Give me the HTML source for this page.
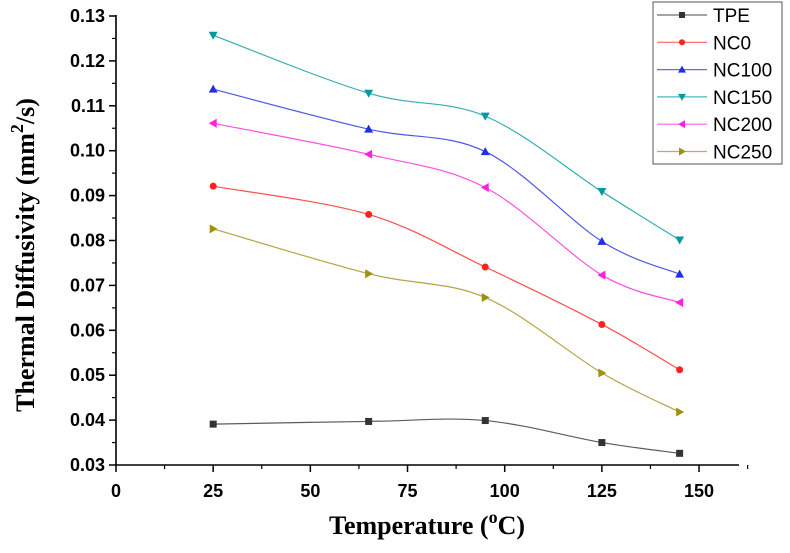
<!DOCTYPE html>
<html><head><meta charset="utf-8"><style>
body{margin:0;background:#fff;}
svg{display:block;font-family:"Liberation Sans",Arial,sans-serif;}
</style></head><body>
<svg id="chart" width="790" height="553"></svg>
<script>
const temps=[25,65,95,125,145];
const seriesNames=["TPE","NC0","NC100","NC150","NC200","NC250"];
const tpe=[0.0391,0.0397,0.0399,0.0350,0.0326];
const nc0=[0.0921,0.0858,0.0741,0.0613,0.0512];
const nc100=[0.1137,0.1048,0.0998,0.0798,0.0725];
const nc150=[0.1257,0.1128,0.1077,0.0909,0.0801];
const nc200=[0.1061,0.0992,0.0918,0.0723,0.0662];
const nc250=[0.0826,0.0726,0.0673,0.0505,0.0418];
const xTicks=[0,25,50,75,100,125,150];
const yTicks=[0.03,0.04,0.05,0.06,0.07,0.08,0.09,0.10,0.11,0.12,0.13];

const allData=[tpe,nc0,nc100,nc150,nc200,nc250];
const colors=["#333333","#ff2020","#2030e0","#009aa0","#ff20e0","#a09010"];
const markers=["square","circle","up","down","left","right"];
const NS="http://www.w3.org/2000/svg";
const svg=document.getElementById('chart');
const X=v=>116+v*3.887;
const Y=v=>465-(v-0.03)*4490;
function mk(tag,attrs,parent){const e=document.createElementNS(NS,tag);for(const k in attrs)e.setAttribute(k,attrs[k]);(parent||svg).appendChild(e);return e;}

let ax=mk('g',{});


mk('line',{x1:116,y1:15,x2:116,y2:465,stroke:'#000','stroke-width':1.6},ax);
mk('line',{x1:116,y1:465,x2:739,y2:465,stroke:'#000','stroke-width':1.6},ax);
yTicks.forEach((t,i)=>{
  const y=Y(t);
  mk('line',{x1:109,y1:y,x2:116,y2:y,stroke:'#000','stroke-width':1.5},ax);
  if(i<yTicks.length-1) mk('line',{x1:112,y1:Y(t+0.005),x2:116,y2:Y(t+0.005),stroke:'#000','stroke-width':1.2},ax);
  const tx=mk('text',{x:105,y:y+6,'text-anchor':'end','font-size':18,'font-weight':'bold'},ax);
  
  
  tx.textContent=t.toFixed(2);
});
xTicks.forEach((t,i)=>{
  const x=X(t);
  mk('line',{x1:x,y1:465,x2:x,y2:472,stroke:'#000','stroke-width':1.5},ax);
  mk('line',{x1:X(t+12.5),y1:465,x2:X(t+12.5),y2:469,stroke:'#000','stroke-width':1.2},ax);
  const tx=mk('text',{x:x,y:497,'text-anchor':'middle','font-size':18,'font-weight':'bold'},ax);
  
  
  tx.textContent=t;
});
let yt=mk('text',{x:0,y:0,transform:'translate(34,255) rotate(-90)','text-anchor':'middle','font-size':26,'font-weight':'bold','font-family':'"Liberation Serif",serif'});


yt.innerHTML='Thermal Diffusivity (mm<tspan dy="-11" font-size="18">2</tspan><tspan dy="11">/s)</tspan>';
let xt=mk('text',{x:427,y:534,'text-anchor':'middle','font-size':26,'font-weight':'bold','font-family':'"Liberation Serif",serif'});


xt.innerHTML='Temperature (<tspan dy="-11" font-size="18">o</tspan><tspan dy="11">C)</tspan>';

function marker(g,type,x,y,c,s){
  s=s||3.5;
  if(type==='square') return mk('rect',{x:x-s,y:y-s,width:2*s,height:2*s,fill:c},g);
  if(type==='circle') return mk('circle',{cx:x,cy:y,r:s,fill:c},g);
  let p;
  if(type==='up') p=[[x,y-s-1],[x-s-1,y+s],[x+s+1,y+s]];
  if(type==='down') p=[[x,y+s+1],[x-s-1,y-s],[x+s+1,y-s]];
  if(type==='left') p=[[x-s-1,y],[x+s,y-s-1],[x+s,y+s+1]];
  if(type==='right') p=[[x+s+1,y],[x-s,y-s-1],[x-s,y+s+1]];
  return mk('polygon',{points:p.map(q=>q.join(',')).join(' '),fill:c},g);
}
function spline(pts){
  let d='M'+pts[0][0]+','+pts[0][1];
  for(let i=0;i<pts.length-1;i++){
    const p0=pts[i-1]||pts[i],p1=pts[i],p2=pts[i+1],p3=pts[i+2]||pts[i+1];
    const c1=[p1[0]+(p2[0]-p0[0])/6,p1[1]+(p2[1]-p0[1])/6];
    const c2=[p2[0]-(p3[0]-p1[0])/6,p2[1]-(p3[1]-p1[1])/6];
    d+=' C'+c1.join(',')+' '+c2.join(',')+' '+p2.join(',');
  }
  return d;
}
allData.forEach((vals,si)=>{
  const g=mk('g',{});
  
  
  const pts=temps.map((t,i)=>[X(t),Y(vals[i])]);
  mk('path',{d:spline(pts),fill:'none',stroke:colors[si],'stroke-width':1.2,opacity:0.8},g);
  pts.forEach(p=>{const m=marker(g,markers[si],p[0],p[1],colors[si]);
    
    });
});
const lg=mk('g',{});


mk('rect',{x:653,y:2,width:129,height:162,fill:'#fff',stroke:'#555','stroke-width':1},lg);
seriesNames.forEach((n,i)=>{
  const y=15+i*27.3;
  const e=mk('g',{},lg);
  
  
  mk('line',{x1:657,y1:y,x2:707,y2:y,stroke:colors[i],'stroke-width':1.2,opacity:0.7},e);
  marker(e,markers[i],682,y,colors[i],3);
  const t=mk('text',{x:713,y:y+7,'font-size':19},e);
  t.textContent=n;
});
</script>
</body></html>
